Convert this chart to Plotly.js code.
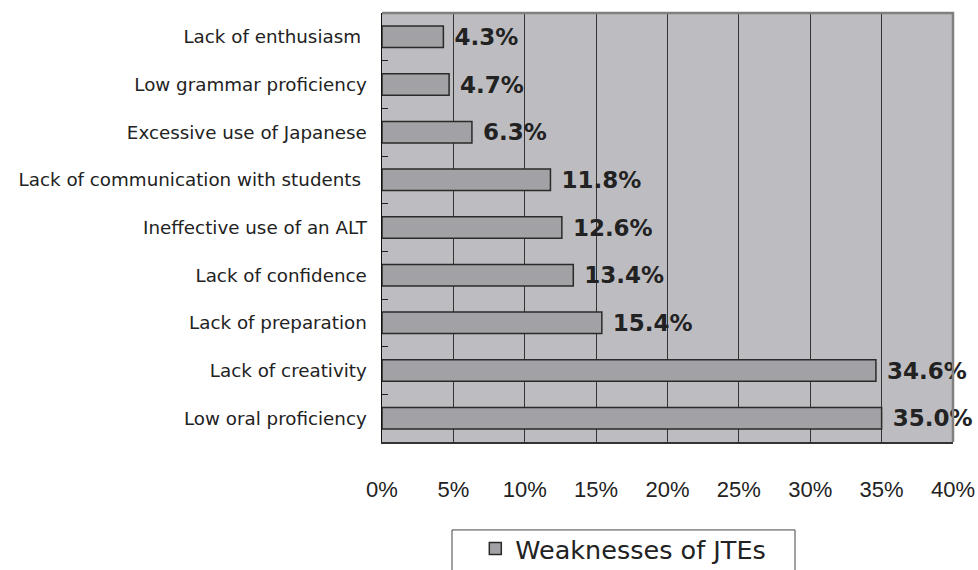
<!DOCTYPE html>
<html>
<head>
<meta charset="utf-8">
<script src="https://cdn.plot.ly/plotly-3.0.1.min.js"></script>
<style>html,body{margin:0;padding:0;background:#fff;}#chart{width:978px;height:570px;}</style>
</head>
<body>
<div id="chart"></div>
<script>
const categories = [
  "Lack of enthusiasm\u00a0",
  "Low grammar proficiency",
  "Excessive use of Japanese",
  "Lack of communication with students\u00a0",
  "Ineffective use of an ALT",
  "Lack of confidence",
  "Lack of preparation",
  "Lack of creativity",
  "Low oral proficiency"
];
const values = [4.3, 4.7, 6.3, 11.8, 12.6, 13.4, 15.4, 34.6, 35.0];
const seriesName = "Weaknesses of JTEs";
const xTickVals = [0, 5, 10, 15, 20, 25, 30, 35, 40];
const xTickText = ["0%", "5%", "10%", "15%", "20%", "25%", "30%", "35%", "40%"];

const trace = {
  type: "bar",
  orientation: "h",
  y: categories,
  x: values,
  name: seriesName,
  showlegend: true,
  marker: {color: "#a2a2a6", line: {color: "#2a2a2a", width: 1.5}},
  texttemplate: "\u00a0%{x:.1f}%",
  textposition: "outside",
  constraintext: "none",
  cliponaxis: false,
  textfont: {family: "DejaVu Sans, sans-serif", size: 23, color: "#222", weight: "bold"}
};

const layout = {
  width: 978, height: 570,
  margin: {l: 382, r: 25, t: 13, b: 128, autoexpand: false},
  paper_bgcolor: "#ffffff",
  plot_bgcolor: "#bdbdc1",
  bargap: 0.55,
  xaxis: {
    range: [0, 40],
    tickvals: xTickVals,
    ticktext: xTickText,
    showgrid: true,
    gridcolor: "#333333",
    gridwidth: 1,
    zeroline: false,
    showline: true,
    linecolor: "#333333",
    linewidth: 1.5,
    ticks: "",
    ticklabelstandoff: 27,
    tickfont: {family: "Liberation Sans, Arial", size: 22, color: "#222"}
  },
  yaxis: {
    autorange: "reversed",
    type: "category",
    showgrid: false,
    zeroline: false,
    showline: true,
    linecolor: "#111111",
    linewidth: 1.5,
    ticks: "inside",
    tickson: "boundaries",
    ticklen: 6,
    tickcolor: "#222",
    ticklabelstandoff: 10,
    tickfont: {family: "DejaVu Sans, sans-serif", size: 18.3, color: "#222"}
  },
  shapes: [
    {type: "path", xref: "paper", yref: "paper", path: "M 0 1 L 1 1 L 1 0",
     line: {color: "#808080", width: 2.5}, layer: "above"},
    {type: "rect", xref: "paper", yref: "paper", x0: 0.1226, x1: 0.7233, y0: -0.36, y1: -0.205,
     line: {color: "#444", width: 1}, fillcolor: "rgba(0,0,0,0)"}
  ],
  legend: {
    xref: "container", yref: "container",
    x: 0.486, y: 0.078, xanchor: "left", yanchor: "top",
    bgcolor: "rgba(0,0,0,0)",
    borderwidth: 0,
    font: {family: "DejaVu Sans, sans-serif", size: 25.5, color: "#222"},
    itemwidth: 30
  }
};

Plotly.newPlot("chart", [trace], layout, {displayModeBar: false, staticPlot: true});
</script>
</body>
</html>
